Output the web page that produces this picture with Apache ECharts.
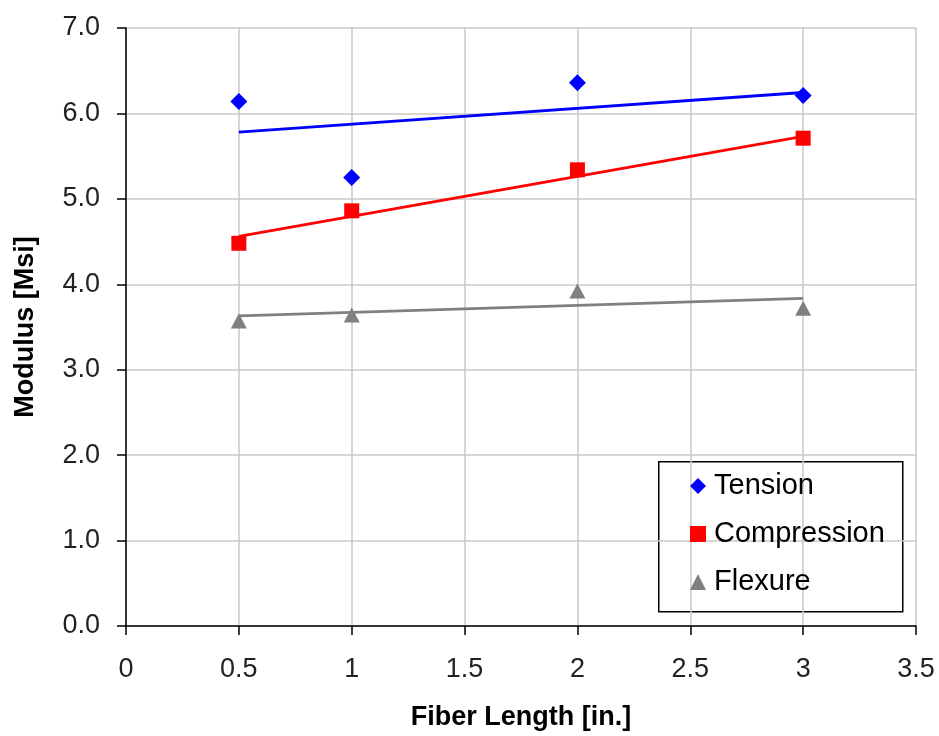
<!DOCTYPE html>
<html>
<head>
<meta charset="utf-8">
<script src="https://cdn.jsdelivr.net/npm/echarts@6/dist/echarts.min.js"></script>
<style>
html,body{margin:0;padding:0;background:#fff;}
#chart{width:939px;height:736px;}
</style>
</head>
<body>
<div id="chart"></div>
<script>
// ---- data ----
var fiberLength = [0.5, 1, 2, 3];
var tension = [6.14, 5.25, 6.36, 6.21];
var compression = [4.48, 4.86, 5.34, 5.71];
var flexure = [3.57, 3.64, 3.92, 3.72];
// trend line endpoints at x = 0.5 and x = 3
var trendX = [0.5, 3];
var tensionTrend = [5.78, 6.245];
var compressionTrend = [4.56, 5.73];
var flexureTrend = [3.63, 3.835];
var seriesNames = ['Tension', 'Compression', 'Flexure'];
var xTicks = [0, 0.5, 1, 1.5, 2, 2.5, 3, 3.5];
var yTicks = [0, 1, 2, 3, 4, 5, 6, 7];

function pairs(xs, ys) { return xs.map(function (x, i) { return [x, ys[i]]; }); }

var FONT = 'Liberation Sans, Arial, sans-serif';
var chart = echarts.init(document.getElementById('chart'), null, {renderer: 'canvas'});
var option = {
  backgroundColor: '#fff',
  animation: false,
  grid: {left: 126, top: 28, right: 23, bottom: 107, containLabel: false},
  xAxis: {
    type: 'value', min: xTicks[0], max: xTicks[xTicks.length - 1], interval: 0.5,
    name: 'Fiber Length [in.]', nameLocation: 'middle', nameGap: 78,
    nameTextStyle: {fontFamily: FONT, fontWeight: 'bold', fontSize: 27, color: '#000'},
    axisLine: {show: true, onZero: false, lineStyle: {color: '#000', width: 1.5}},
    axisTick: {show: true, inside: false, length: 9, lineStyle: {color: '#000', width: 1.5}},
    axisLabel: {fontFamily: FONT, fontSize: 27, color: '#222', margin: 30},
    splitLine: {show: true, lineStyle: {color: '#c8c8c8', width: 1.5}}
  },
  yAxis: {
    type: 'value', min: yTicks[0], max: yTicks[yTicks.length - 1], interval: 1,
    name: 'Modulus [Msi]', nameLocation: 'middle', nameGap: 87, nameRotate: 90,
    nameTextStyle: {fontFamily: FONT, fontWeight: 'bold', fontSize: 27, color: '#000'},
    axisLine: {show: true, onZero: false, lineStyle: {color: '#000', width: 1.5}},
    axisTick: {show: true, inside: false, length: 9, lineStyle: {color: '#000', width: 1.5}},
    axisLabel: {fontFamily: FONT, fontSize: 27, color: '#222', margin: 26,
      formatter: function (v) { return v.toFixed(1); }},
    splitLine: {show: true, lineStyle: {color: '#c8c8c8', width: 1.5}}
  },
  legend: {
    orient: 'vertical', left: 690, top: 471, padding: 0,
    itemWidth: 16, itemHeight: 16, itemGap: 18,
    textStyle: {fontFamily: FONT, fontSize: 29, color: '#000', lineHeight: 30, padding: [0, 0, 0, 3]},
    data: [
      {name: seriesNames[0], icon: 'diamond'},
      {name: seriesNames[1], icon: 'rect'},
      {name: seriesNames[2], icon: 'triangle'}
    ]
  },
  graphic: [{
    type: 'rect', left: 658, top: 461, z: 0,
    shape: {width: 244, height: 150},
    style: {fill: '#fff', stroke: '#000', lineWidth: 1.5}
  }],
  series: [
    {name: 'tTrend', type: 'line', data: pairs(trendX, tensionTrend), symbol: 'none',
      lineStyle: {color: '#0000ff', width: 2.8}, z: 2, silent: true},
    {name: 'cTrend', type: 'line', data: pairs(trendX, compressionTrend), symbol: 'none',
      lineStyle: {color: '#ff0000', width: 2.8}, z: 2, silent: true},
    {name: 'fTrend', type: 'line', data: pairs(trendX, flexureTrend), symbol: 'none',
      lineStyle: {color: '#808080', width: 2.8}, z: 2, silent: true},
    {name: seriesNames[0], type: 'scatter', data: pairs(fiberLength, tension), symbol: 'diamond',
      symbolSize: [17, 17], itemStyle: {color: '#0000ff', opacity: 1}, z: 3},
    {name: seriesNames[1], type: 'scatter', data: pairs(fiberLength, compression), symbol: 'rect',
      symbolSize: [15, 15], itemStyle: {color: '#ff0000', opacity: 1}, z: 3},
    {name: seriesNames[2], type: 'scatter', data: pairs(fiberLength, flexure), symbol: 'triangle',
      symbolSize: [16, 15], itemStyle: {color: '#808080', opacity: 1}, z: 3}
  ]
};
chart.setOption(option);
</script>
</body>
</html>
